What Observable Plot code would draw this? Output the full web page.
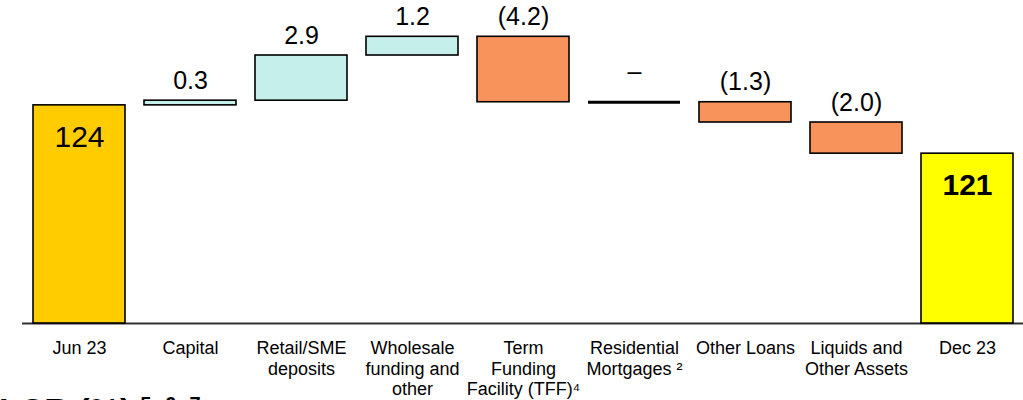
<!DOCTYPE html>
<html>
<head>
<meta charset="utf-8">
<script src="https://cdn.jsdelivr.net/npm/d3@7"></script>
<script src="https://cdn.jsdelivr.net/npm/@observablehq/plot@0.6"></script>
<style>
  body { margin: 0; background: #fff; overflow: hidden; font-family: "Liberation Sans", Arial, sans-serif; position: relative; }
  #chart svg { display: block; }
  #foot { position: absolute; left: -1px; top: 393px; font-weight: bold; font-size: 34px; line-height: 34px; height: 34px; white-space: nowrap; color: #000; }
  #foot .sup { font-size: 20px; line-height: 0; word-spacing: 8px; margin-left: 9px; position: relative; top: -11px; vertical-align: baseline; }
</style>
</head>
<body>
<div id="chart"></div>
<div id="foot">LCR (%)<span class="sup">5 6 7</span></div>
<script>
// ---- data ----
const categories = [
  "Jun 23",
  "Capital",
  "Retail/SME\ndeposits",
  "Wholesale\nfunding and\nother",
  "Term\nFunding\nFacility (TFF)\u2074",
  "Residential\nMortgages \u00b2",
  "Other Loans",
  "Liquids and\nOther Assets",
  "Dec 23"
];
const kinds = ["start", "delta", "delta", "delta", "delta", "delta", "delta", "delta", "end"];
const values = [124, 0.3, 2.9, 1.2, -4.2, 0, -1.3, -2.0, 121];
const valueLabels = ["124", "0.3", "2.9", "1.2", "(4.2)", "\u2013", "(1.3)", "(2.0)", "121"];
const yDomain = [110, 130.73];

// ---- build waterfall rows ----
let running = 0;
const rows = categories.map((cat, i) => {
  const v = values[i];
  let lo, hi, type;
  if (kinds[i] === "start") {
    running = v; lo = yDomain[0]; hi = v; type = "start";
  } else if (kinds[i] === "end") {
    lo = yDomain[0]; hi = running; type = "end";
  } else {
    const next = running + v;
    lo = Math.min(running, next); hi = Math.max(running, next);
    type = v > 0 ? "up" : v < 0 ? "down" : "zero";
    running = next;
  }
  return {cat, lo, hi, type, label: valueLabels[i]};
});

const fillByType = {start: "#FFCC00", end: "#FFFF00", up: "#C5EFEA", down: "#F9935C"};

const chart = Plot.plot({
  width: 1023,
  height: 400,
  marginTop: 0,
  marginBottom: 77,
  marginLeft: 22,
  marginRight: 0,
  style: {fontFamily: "'Liberation Sans', Arial, sans-serif", background: "transparent", color: "#000"},
  x: {domain: categories, paddingInner: 0.174, paddingOuter: 0.08},
  y: {domain: yDomain, axis: null},
  color: {type: "identity"},
  marks: [
    Plot.ruleY([yDomain[0]], {stroke: "#333", strokeWidth: 2}),
    Plot.barY(rows.filter(d => d.type !== "zero"), {
      x: "cat", y1: "lo", y2: "hi",
      fill: d => fillByType[d.type],
      stroke: "#000", strokeWidth: 1.6
    }),
    Plot.tickY(rows.filter(d => d.type === "zero"), {x: "cat", y: "hi", stroke: "#000", strokeWidth: 3}),
    Plot.text(rows.filter(d => d.type === "up" || d.type === "down"), {
      x: "cat", y: "hi", text: "label", dy: -20, fontSize: 25, fill: "#000"
    }),
    Plot.text(rows.filter(d => d.type === "zero"), {
      x: "cat", y: "hi", text: "label", dy: -30, fontSize: 25, fill: "#000"
    }),
    Plot.text(rows.filter(d => d.type === "start"), {
      x: "cat", y: "hi", text: "label", dy: 32, fontSize: 30, fill: "#000"
    }),
    Plot.text(rows.filter(d => d.type === "end"), {
      x: "cat", y: "hi", text: "label", dy: 32, fontSize: 30, fontWeight: "bold", fill: "#000"
    }),
    Plot.axisX({tickSize: 0, tickPadding: 16, fontSize: 18, lineHeight: 1.14, label: null, fill: "#000"})
  ]
});
document.getElementById("chart").appendChild(chart);
</script>
</body>
</html>
